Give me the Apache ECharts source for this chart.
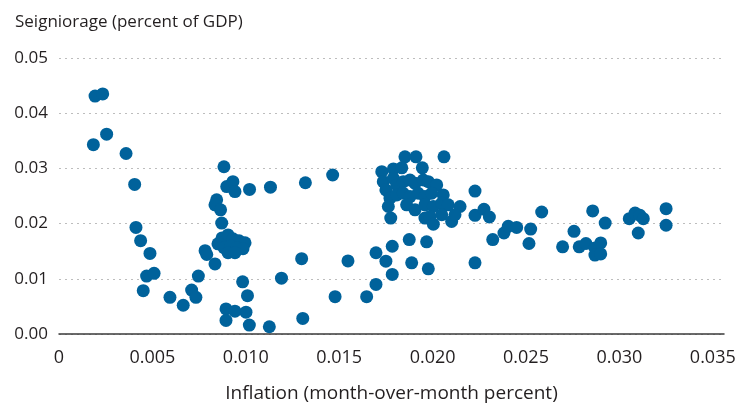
<!DOCTYPE html>
<html>
<head>
<meta charset="utf-8">
<script src="https://cdn.jsdelivr.net/npm/echarts@6/dist/echarts.min.js"></script>
<style>
  html, body { margin: 0; padding: 0; background: #fff; }
  #chart { width: 740px; height: 408px; }
</style>
</head>
<body>
<div id="chart"></div>
<script>
// inflation (month-over-month) and seigniorage (% of GDP)
const inflation = [
  0.00193, 0.00234, 0.00184, 0.00255, 0.00359, 0.00405, 0.00412, 0.00437, 0.00487, 0.00469,
  0.00509, 0.00451, 0.00594, 0.00665, 0.0071, 0.00733, 0.00746, 0.00782, 0.00791, 0.00835,
  0.00871, 0.00844, 0.00835, 0.00865, 0.00883, 0.00898, 0.00931, 0.00942, 0.0102, 0.01132,
  0.01319, 0.01465, 0.00983, 0.01009, 0.00894, 0.00942, 0.01001, 0.00894, 0.01019, 0.01126,
  0.01305, 0.01299, 0.01547, 0.01191, 0.01478, 0.01647, 0.01697, 0.01697,
  0.00851, 0.00873, 0.00905, 0.00931, 0.00964, 0.00996, 0.00883, 0.00921, 0.00953, 0.00985,
  0.00905, 0.00942,
  0.01852, 0.01911, 0.02061, 0.01728, 0.0179, 0.01835, 0.01945, 0.01736, 0.0175, 0.0179,
  0.01808, 0.01843, 0.01879, 0.01906, 0.0195, 0.01977, 0.02022, 0.01772, 0.01808, 0.01843,
  0.01879, 0.01923, 0.01959, 0.01995, 0.02057, 0.02227, 0.01763, 0.01861, 0.01906, 0.01959,
  0.02004, 0.02049, 0.02084, 0.02147, 0.01776, 0.01959, 0.01986, 0.02004, 0.02049, 0.02102,
  0.0212, 0.02227, 0.02275, 0.02304, 0.02322, 0.02382, 0.02405, 0.0245, 0.01875, 0.01968,
  0.01784, 0.0175, 0.01888, 0.01977, 0.02227, 0.01784,
  0.02525, 0.02516, 0.02584, 0.02696, 0.02757, 0.02785, 0.02821, 0.02869, 0.029, 0.02869,
  0.029, 0.02857, 0.02924, 0.03053, 0.03084, 0.0311, 0.03128, 0.03101, 0.0325, 0.0325
];
const seigniorage = [
  0.0431, 0.0435, 0.0343, 0.0362, 0.0327, 0.0271, 0.0193, 0.0169, 0.0146, 0.0105,
  0.0110, 0.00785, 0.00664, 0.00521, 0.00795, 0.00664, 0.0105, 0.0151, 0.0144, 0.0127,
  0.0201, 0.0243, 0.0234, 0.0225, 0.0303, 0.0267, 0.0276, 0.0258, 0.0262, 0.0266,
  0.0274, 0.0288, 0.00946, 0.00695, 0.00454, 0.00413, 0.00395, 0.00246, 0.00162, 0.00131,
  0.00282, 0.01365, 0.01323, 0.01011, 0.00677, 0.00677, 0.01472, 0.00898,
  0.01634, 0.01741, 0.01795, 0.01724, 0.01688, 0.01652, 0.01562, 0.01598, 0.01562, 0.01544,
  0.01472, 0.01472,
  0.0321, 0.0321, 0.0321, 0.0294, 0.0299, 0.0301, 0.0301, 0.0276, 0.0261, 0.0282,
  0.027, 0.0276, 0.0279, 0.0273, 0.0279, 0.0276, 0.027, 0.0246, 0.0252, 0.0255,
  0.0249, 0.0255, 0.0249, 0.0255, 0.0252, 0.0259, 0.0231, 0.0234, 0.0225, 0.0234,
  0.0231, 0.0237, 0.0234, 0.0231, 0.021, 0.021, 0.0213, 0.0199, 0.0216, 0.0204,
  0.0216, 0.0215, 0.0226, 0.0212, 0.0171, 0.0183, 0.0195, 0.0193, 0.0171, 0.0167,
  0.0159, 0.0132, 0.0129, 0.0118, 0.0129, 0.0108,
  0.019, 0.0164, 0.0221, 0.0158, 0.0186, 0.0158, 0.0164, 0.0156, 0.0165, 0.0143,
  0.0145, 0.0223, 0.0201, 0.0209, 0.0219, 0.0215, 0.0209, 0.0183, 0.0227, 0.0197
];

const points = inflation.map((x, i) => [x, seigniorage[i]]);

const chartDom = document.getElementById("chart");
const myChart = echarts.init(chartDom);

const textColor = "#231f20";
const fontFamily = "'Open Sans', sans-serif";

const option = {
  animation: false,
  title: {
    text: "Seigniorage (percent of GDP)",
    left: 10,
    top: 9,
    textStyle: { color: textColor, fontSize: 17, fontWeight: "normal", fontFamily: fontFamily },
  },
  grid: { left: 59, right: 16, top: 58, bottom: 71 },
  xAxis: {
    type: "value",
    min: 0,
    max: 0.0356,
    interval: 0.005,
    name: "Inflation (month-over-month percent)",
    nameLocation: "middle",
    nameGap: 50,
    nameTextStyle: { color: textColor, fontSize: 19, fontFamily: fontFamily },
    axisLine: { show: true, lineStyle: { color: "#3a3a3a", width: 1.5 } },
    axisTick: { show: false },
    splitLine: { show: false },
    axisLabel: {
      color: textColor,
      fontSize: 18,
      fontFamily: fontFamily,
      margin: 15,
      showMaxLabel: false,
      formatter: (v) => (v === 0 ? "0" : v.toFixed(3)),
    },
  },
  yAxis: {
    type: "value",
    min: 0,
    max: 0.05,
    interval: 0.01,
    axisLine: { show: false },
    axisTick: { show: false },
    splitLine: { lineStyle: { color: "#bdbdbd", type: [2, 4], width: 1 } },
    axisLabel: {
      color: textColor,
      fontSize: 17,
      fontFamily: fontFamily,
      margin: 11,
      formatter: (v) => v.toFixed(2),
    },
  },
  series: [
    {
      type: "scatter",
      data: points,
      symbolSize: 13,
      itemStyle: { color: "#00629b", opacity: 1 },
    },
  ],
};

myChart.setOption(option);
</script>
</body>
</html>
